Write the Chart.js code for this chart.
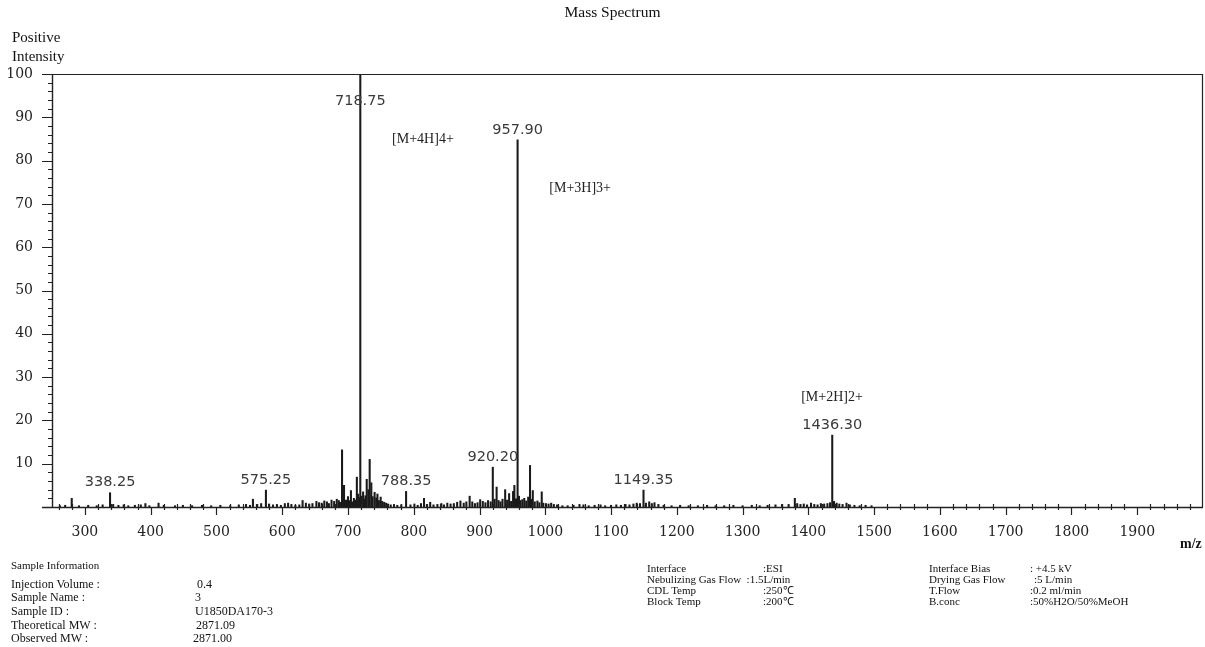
<!DOCTYPE html>
<html>
<head>
<meta charset="utf-8">
<script src="https://cdn.jsdelivr.net/npm/chart.js@4.4.1/dist/chart.umd.min.js"></script>
<style>
  html, body { margin: 0; padding: 0; background: #fff; }
  #wrap { position: relative; width: 1205px; height: 647px; overflow: hidden; font-family: "Liberation Serif", serif; color: #111; }
  #c { position: absolute; left: 0; top: 0; }
  .t { position: absolute; white-space: pre; line-height: 1; }
</style>
</head>
<body>
<div id="wrap">
  <canvas id="c" width="1205" height="647"></canvas>
  <div class="t" style="left:0;width:1225px;text-align:center;top:4px;font-size:15.5px;">Mass Spectrum</div>
  <div class="t" style="left:12px;top:30px;font-size:15px;">Positive</div>
  <div class="t" style="left:12px;top:49px;font-size:15px;">Intensity</div>
  <div class="t" style="left:1180px;top:537px;font-size:14px;font-weight:bold;">m/z</div>

  <div class="t" style="left:11px;top:560px;font-size:11px;">Sample Information</div>
  <div class="t" style="left:11px;top:578px;font-size:12px;">Injection Volume :</div>
  <div class="t" style="left:11px;top:591px;font-size:12px;">Sample Name :</div>
  <div class="t" style="left:11px;top:605px;font-size:12px;">Sample ID :</div>
  <div class="t" style="left:11px;top:619px;font-size:12px;">Theoretical MW :</div>
  <div class="t" style="left:11px;top:632px;font-size:12px;">Observed MW :</div>
  <div class="t" style="left:197px;top:578px;font-size:12px;">0.4</div>
  <div class="t" style="left:195px;top:591px;font-size:12px;">3</div>
  <div class="t" style="left:195px;top:605px;font-size:12px;">U1850DA170-3</div>
  <div class="t" style="left:196px;top:619px;font-size:12px;">2871.09</div>
  <div class="t" style="left:193px;top:632px;font-size:12px;">2871.00</div>

  <div class="t" style="left:647px;top:563px;font-size:11px;">Interface</div>
  <div class="t" style="left:647px;top:574px;font-size:11px;">Nebulizing Gas Flow&nbsp;&nbsp;:1.5L/min</div>
  <div class="t" style="left:647px;top:585px;font-size:11px;">CDL Temp</div>
  <div class="t" style="left:647px;top:596px;font-size:11px;">Block Temp</div>
  <div class="t" style="left:763px;top:563px;font-size:11px;">:ESI</div>
  <div class="t" style="left:763px;top:585px;font-size:11px;">:250℃</div>
  <div class="t" style="left:763px;top:596px;font-size:11px;">:200℃</div>

  <div class="t" style="left:929px;top:563px;font-size:11px;">Interface Bias</div>
  <div class="t" style="left:929px;top:574px;font-size:11px;">Drying Gas Flow</div>
  <div class="t" style="left:929px;top:585px;font-size:11px;">T.Flow</div>
  <div class="t" style="left:929px;top:596px;font-size:11px;">B.conc</div>
  <div class="t" style="left:1030px;top:563px;font-size:11px;">: +4.5 kV</div>
  <div class="t" style="left:1034px;top:574px;font-size:11px;">:5 L/min</div>
  <div class="t" style="left:1030px;top:585px;font-size:11px;">:0.2 ml/min</div>
  <div class="t" style="left:1030px;top:596px;font-size:11px;">:50%H2O/50%MeOH</div>
</div>
<script>
// ---- data ----
const mzValues = [
  262, 270, 280, 291, 305, 318, 327, 338.25, 343, 351, 359, 366, 376, 385, 392, 398, 412, 420, 437, 449,
  463, 478, 492, 506, 521, 534, 545, 551, 555.5, 562, 568, 575.25, 580, 586, 592, 598, 604, 609, 614, 620,
  626, 631, 636, 641, 646, 652, 656, 660, 664, 668, 671, 675, 679, 683, 686, 688, 691, 694, 697, 700,
  702, 704.5, 707, 709, 711, 713.5, 715.5, 717, 718.75, 720.5, 723, 725, 726.5, 728.5, 731, 733, 735.5, 737.5, 740.5, 743,
  744.8, 747, 749.7, 752, 755, 758, 761, 765, 770, 775, 781, 788.35, 795, 801, 806, 811, 815.6, 820, 825, 830,
  836, 842, 846, 851, 856, 861, 866, 871, 876, 880, 885, 889, 893, 897, 901, 905, 909, 913, 917, 920.2,
  923, 926, 929, 932, 935, 939, 942, 945, 948, 951, 953, 955.5, 957.9, 960, 962, 965, 968, 971, 974, 976.8,
  979, 981, 984, 988, 991, 994.6, 997, 1001, 1005, 1009, 1013, 1018, 1026, 1034, 1043, 1052, 1058, 1066, 1075, 1084,
  1091, 1100, 1108, 1115, 1122, 1128, 1134, 1139, 1144, 1149.35, 1153, 1158, 1162, 1166, 1172, 1180, 1192, 1205, 1218, 1232,
  1246, 1259, 1272, 1286, 1300, 1314, 1326, 1338, 1350, 1360, 1370, 1379.4, 1383, 1388, 1393, 1398, 1404, 1409, 1414, 1419,
  1424, 1429, 1433, 1436.3, 1439, 1443, 1447, 1452, 1458, 1463, 1470, 1478, 1487, 1496
];
const intensityValues = [
  0.3, 0.4, 2.0, 0.3, 0.4, 0.3, 0.5, 3.3, 0.6, 0.4, 0.5, 0.3, 0.4, 0.5, 0.8, 0.3, 0.9, 0.4, 0.3, 0.4,
  0.3, 0.4, 0.3, 0.4, 0.3, 0.5, 0.6, 0.4, 1.8, 0.6, 0.8, 3.9, 0.7, 0.5, 0.6, 0.4, 0.8, 0.9, 0.6, 0.4,
  0.5, 1.5, 0.9, 0.7, 0.8, 1.3, 1.0, 0.9, 1.4, 1.2, 0.8, 1.6, 1.3, 1.8, 1.5, 1.1, 13.2, 5.0, 1.6, 2.4,
  1.5, 3.8, 1.2, 2.0, 1.6, 6.9, 3.0, 2.2, 100, 2.5, 3.5, 1.8, 2.6, 6.4, 4.0, 11.0, 5.6, 2.4, 3.4, 2.1,
  3.0, 1.5, 2.3, 1.3, 1.1, 0.9, 0.7, 0.5, 0.6, 0.4, 0.5, 3.6, 0.5, 0.7, 0.4, 0.8, 2.0, 0.6, 1.1, 0.5,
  0.6, 0.8, 0.5, 0.9, 0.7, 0.8, 1.1, 1.4, 0.9, 1.2, 2.5, 1.2, 0.8, 1.0, 1.7, 1.3, 1.0, 1.5, 1.2, 9.2,
  1.8, 4.6, 1.5, 1.2, 1.8, 4.0, 1.6, 3.1, 1.3, 3.6, 5.0, 1.9, 84.8, 2.5, 1.5, 1.7, 2.0, 1.4, 2.3, 9.6,
  1.8, 3.8, 1.2, 1.4, 1.0, 3.5, 0.9, 0.8, 0.7, 0.9, 0.6, 0.5, 0.3, 0.3, 0.4, 0.6, 0.5, 0.3, 0.4, 0.5,
  0.3, 0.4, 0.5, 0.4, 0.6, 0.5, 0.7, 0.9, 0.8, 3.9, 0.9, 1.2, 0.8, 1.0, 0.6, 0.4, 0.3, 0.4, 0.3, 0.3,
  0.4, 0.3, 0.3, 0.4, 0.3, 0.4, 0.3, 0.4, 0.5, 0.6, 0.6, 2.0, 0.8, 0.6, 0.7, 0.5, 0.9, 0.6, 0.5, 0.8,
  0.7, 0.8, 1.0, 16.6, 1.3, 0.9, 0.7, 0.6, 0.9, 0.5, 0.4, 0.3, 0.4, 0.3
];
const labelledPeaks = [338.25, 575.25, 718.75, 788.35, 920.20, 957.90, 1149.35, 1436.30];
const labelledText  = ["338.25", "575.25", "718.75", "788.35", "920.20", "957.90", "1149.35", "1436.30"];
const ionLabels = ["[M+4H]4+", "[M+3H]3+", "[M+2H]2+"];
const ionMz     = [814, 1053, 1436];
const ionLevel  = [84.8, 73.7, 25.4];
const xTicks = [300, 400, 500, 600, 700, 800, 900, 1000, 1100, 1200, 1300, 1400, 1500, 1600, 1700, 1800, 1900];
const yTicks = [10, 20, 30, 40, 50, 60, 70, 80, 90, 100];
const xMin = 250, xMax = 2000, yMin = 0, yMax = 100;

const points = mzValues.map((m, i) => ({ x: m, y: intensityValues[i] }));
function intensityAt(m) {
  let best = 0, bd = Infinity;
  mzValues.forEach((v, i) => { const d = Math.abs(v - m); if (d < bd) { bd = d; best = intensityValues[i]; } });
  return best;
}

const framePlugin = {
  id: 'frame',
  afterDraw(chart) {
    const { ctx, chartArea: a, scales: { x, y } } = chart;
    ctx.save();
    ctx.strokeStyle = '#222';
    ctx.lineWidth = 1.2;
    ctx.beginPath();
    ctx.moveTo(a.left, a.top + 0.5); ctx.lineTo(a.right, a.top + 0.5);
    ctx.moveTo(a.right - 0.5, a.top); ctx.lineTo(a.right - 0.5, a.bottom);
    ctx.stroke();
    ctx.lineWidth = 1.4;
    ctx.beginPath();
    ctx.moveTo(a.left - 10, a.bottom + 0.5); ctx.lineTo(a.right, a.bottom + 0.5);
    ctx.moveTo(a.left + 0.5, a.top); ctx.lineTo(a.left + 0.5, a.bottom);
    ctx.stroke();
    ctx.lineWidth = 1.2;
    ctx.beginPath();
    for (let v = 260; v < xMax; v += 20) {
      const px = Math.round(x.getPixelForValue(v)) + 0.5;
      if (v % 100 === 0) { ctx.moveTo(px, a.bottom); ctx.lineTo(px, a.bottom + 8); }
      else { ctx.moveTo(px, a.bottom - 3); ctx.lineTo(px, a.bottom + 3); }
    }
    for (let v = 2; v <= yMax; v += 2) {
      const py = Math.round(y.getPixelForValue(v)) + 0.5;
      if (v % 10 === 0) { ctx.moveTo(a.left - 10, py); ctx.lineTo(a.left, py); }
      else { ctx.moveTo(a.left - 4, py); ctx.lineTo(a.left, py); }
    }
    ctx.stroke();
    ctx.fillStyle = '#3a3a3a';
    ctx.font = '14.5px "DejaVu Sans"';
    ctx.textAlign = 'center';
    ctx.textBaseline = 'middle';
    labelledPeaks.forEach((m, i) => {
      const px = x.getPixelForValue(m);
      let py = y.getPixelForValue(intensityAt(m)) - 10;
      if (py < a.top + 10) py = a.top + 27;
      ctx.fillText(labelledText[i], px, py);
    });
    ctx.fillStyle = '#222';
    ctx.font = '14px "Liberation Serif"';
    ionLabels.forEach((t, i) => {
      ctx.fillText(t, x.getPixelForValue(ionMz[i]), y.getPixelForValue(ionLevel[i]));
    });
    ctx.restore();
  }
};

new Chart(document.getElementById('c'), {
  type: 'bar',
  data: {
    datasets: [{
      data: points,
      backgroundColor: '#1a1a1a',
      borderWidth: 0,
      barThickness: 1.4,
      grouped: false
    }]
  },
  options: {
    responsive: false,
    devicePixelRatio: 1,
    animation: false,
    events: [],
    layout: { padding: { left: 0, top: 74, right: 2, bottom: 110 } },
    plugins: { legend: { display: false }, tooltip: { enabled: false } },
    scales: {
      x: {
        type: 'linear', min: xMin, max: xMax, offset: false,
        grid: { display: false },
        border: { display: false },
        afterBuildTicks: s => { s.ticks = xTicks.map(v => ({ value: v })); },
        afterFit: s => { s.height = 30; },
        ticks: { padding: 9, maxRotation: 0, autoSkip: false, color: '#222',
                 font: { family: 'DejaVu Serif', size: 14 }, callback: v => String(v) }
      },
      y: {
        type: 'linear', min: yMin, max: yMax,
        grid: { display: false },
        border: { display: false },
        afterBuildTicks: s => { s.ticks = yTicks.map(v => ({ value: v })); },
        afterFit: s => { s.width = 52; },
        ticks: { padding: 11, autoSkip: false, color: '#222',
                 font: { family: 'DejaVu Serif', size: 14 }, callback: v => String(v) }
      }
    }
  },
  plugins: [framePlugin]
});
</script>
</body>
</html>
